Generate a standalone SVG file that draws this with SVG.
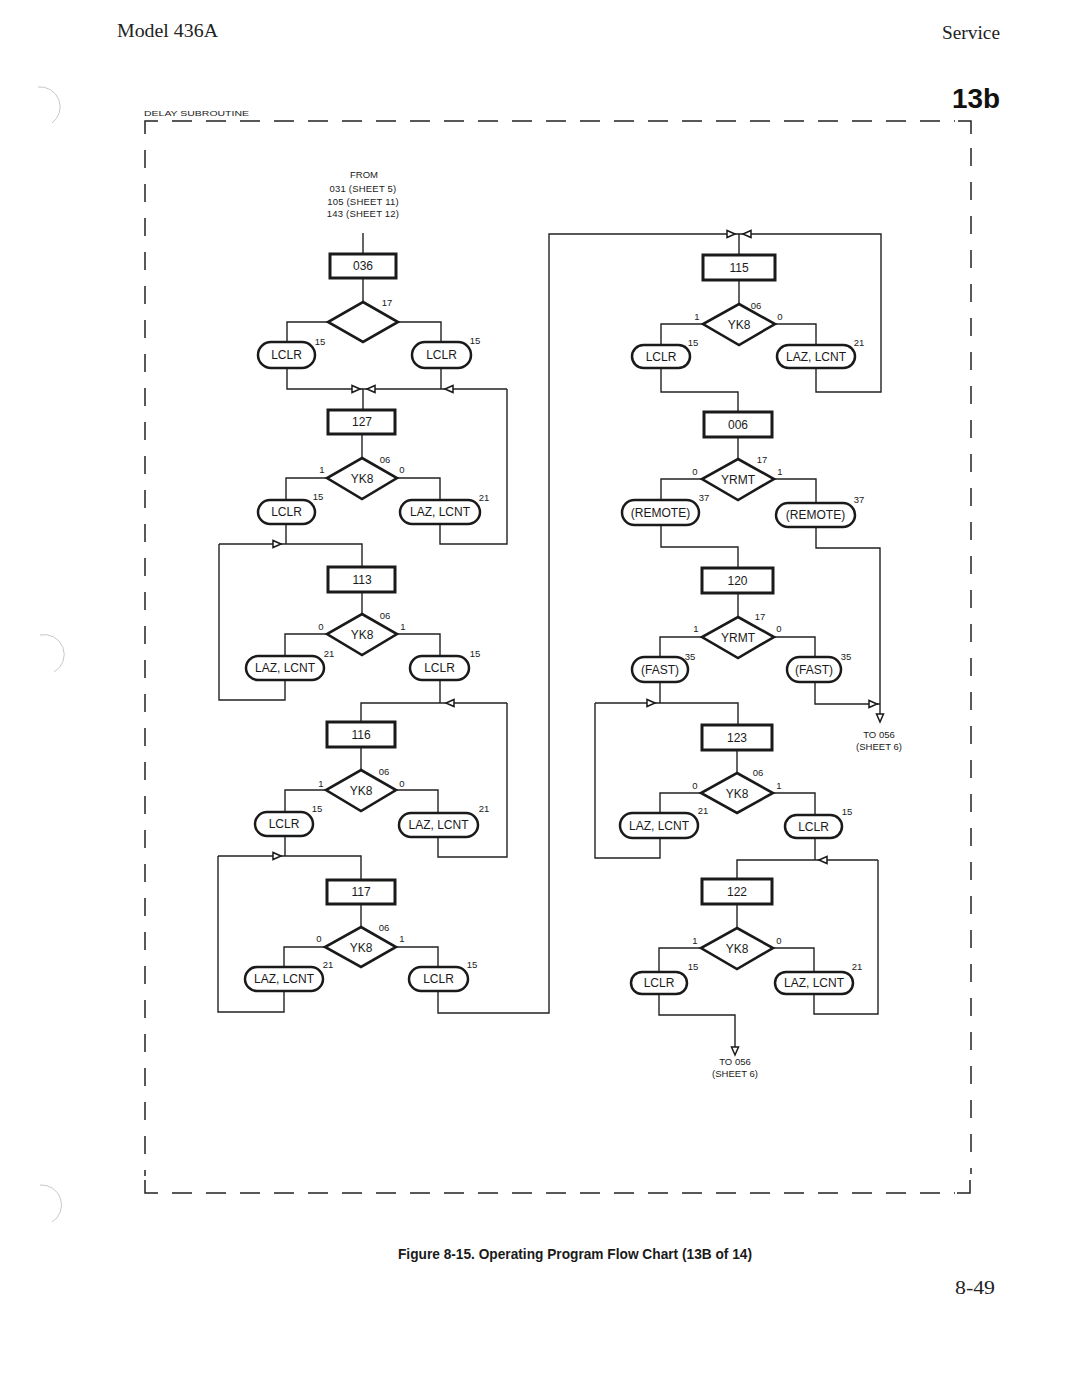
<svg xmlns="http://www.w3.org/2000/svg" width="1080" height="1399" viewBox="0 0 1080 1399">
<style>
.ln{fill:none;stroke:#222;stroke-width:1.4}
.bd{fill:none;stroke:#222;stroke-width:1.5}
.box{fill:#fff;stroke:#1a1a1a;stroke-width:3}
.dia{fill:#fff;stroke:#1a1a1a;stroke-width:2.6;stroke-linejoin:miter}
.ov{fill:#fff;stroke:#1a1a1a;stroke-width:2.5}
.t{font-family:"Liberation Sans",Arial,sans-serif;font-size:12px;fill:#1a1a1a;text-anchor:middle;dominant-baseline:central}
.s{font-family:"Liberation Sans",Arial,sans-serif;font-size:9.5px;fill:#1a1a1a;text-anchor:middle}
.hole{fill:none;stroke:#c8c8c8;stroke-width:1}
</style>
<defs>
<path id="ah" d="M0,0 L-8,-3.5 L-8,3.5 Z" fill="#fff" stroke="#1a1a1a" stroke-width="1.5" stroke-linejoin="miter"/>
</defs>
<rect width="1080" height="1399" fill="#fff"/>

<!-- page artefacts -->
<path class="hole" d="M38,87 A20,20 0 0 1 52,123"/>
<path class="hole" d="M40,635 A20,20 0 0 1 54,672"/>
<path class="hole" d="M40,1185 A20,20 0 0 1 52,1222"/>

<!-- header -->
<text x="117" y="37" font-family="Liberation Serif,serif" font-size="19" fill="#222" textLength="101" lengthAdjust="spacingAndGlyphs">Model 436A</text>
<text x="942" y="39" font-family="Liberation Serif,serif" font-size="18" fill="#222" textLength="58" lengthAdjust="spacingAndGlyphs">Service</text>
<text x="952" y="108" font-family="Liberation Sans,Arial,sans-serif" font-size="28" font-weight="bold" fill="#111" textLength="48" lengthAdjust="spacingAndGlyphs">13b</text>
<text x="144" y="116" font-family="Liberation Sans,Arial,sans-serif" font-size="7.5" fill="#222" textLength="105" lengthAdjust="spacingAndGlyphs">DELAY SUBROUTINE</text>

<!-- dashed border -->
<g id="border">
<path class="bd" d="M145,134 V121 H158"/>
<path class="bd" d="M172,121 H955" stroke-dasharray="20 14"/>
<path class="bd" d="M958,121 H971 V134"/>
<path class="bd" d="M145,150 V1176" stroke-dasharray="18 16"/>
<path class="bd" d="M145,1180 V1193 H158"/>
<path class="bd" d="M172,1193 H955" stroke-dasharray="20 14"/>
<path class="bd" d="M957,1193 H970 V1180"/>
<path class="bd" d="M971,148 V1174" stroke-dasharray="18 16"/>
</g>

<!-- from text -->
<g id="from">
<text class="s" x="364" y="178">FROM</text>
<text class="s" x="363" y="192" letter-spacing="0.2">031 (SHEET 5)</text>
<text class="s" x="363" y="205" letter-spacing="0.2">105 (SHEET 11)</text>
<text class="s" x="363" y="217" letter-spacing="0.2">143 (SHEET 12)</text>
</g>

<!-- connectors -->
<g id="connectors">
<path class="ln" d="M363,233 V254"/>
<path class="ln" d="M363,278 V302"/>
<path class="ln" d="M328,322 H287 V342"/>
<path class="ln" d="M398,322 H441 V342"/>
<path class="ln" d="M287,368 V389 H363"/>
<path class="ln" d="M441,368 V389"/>
<path class="ln" d="M507,389 H363 V410"/>
<path class="ln" d="M362,434 V458"/>
<path class="ln" d="M327,478 H286 V500"/>
<path class="ln" d="M397,478 H440 V500"/>
<path class="ln" d="M440,524 V544 H507 V389"/>
<path class="ln" d="M286,524 V544"/>
<path class="ln" d="M219,544 H362 V567"/>
<path class="ln" d="M362,592 V614"/>
<path class="ln" d="M327,634 H285 V656"/>
<path class="ln" d="M397,634 H440 V656"/>
<path class="ln" d="M285,680 V700 H219 V544"/>
<path class="ln" d="M440,680 V703"/>
<path class="ln" d="M507,703 H361 V722"/>
<path class="ln" d="M361,747 V770"/>
<path class="ln" d="M326,790 H285 V812"/>
<path class="ln" d="M396,790 H438 V813"/>
<path class="ln" d="M438,837 V857 H507 V703"/>
<path class="ln" d="M285,836 V856"/>
<path class="ln" d="M218,856 H361 V880"/>
<path class="ln" d="M361,904 V927"/>
<path class="ln" d="M325,947 H284 V967"/>
<path class="ln" d="M396,947 H438 V967"/>
<path class="ln" d="M284,991 V1012 H218 V856"/>
<path class="ln" d="M438,991 V1013 H549 V234 H739"/>
<path class="ln" d="M816,368 V392 H881 V234 H739 V255"/>
<path class="ln" d="M739,280 V304"/>
<path class="ln" d="M703,324 H661 V345"/>
<path class="ln" d="M775,324 H816 V345"/>
<path class="ln" d="M661,368 V392 H738 V412"/>
<path class="ln" d="M738,437 V459"/>
<path class="ln" d="M702,479 H661 V500"/>
<path class="ln" d="M774,479 H816 V503"/>
<path class="ln" d="M661,525 V547 H738 V568"/>
<path class="ln" d="M816,527 V548 H880 V720"/>
<path class="ln" d="M738,593 V617"/>
<path class="ln" d="M702,637 H660 V657"/>
<path class="ln" d="M774,637 H815 V657"/>
<path class="ln" d="M815,682 V704 H880"/>
<path class="ln" d="M660,682 V703"/>
<path class="ln" d="M595,703 H738 V725"/>
<path class="ln" d="M737,750 V773"/>
<path class="ln" d="M701,793 H660 V813"/>
<path class="ln" d="M773,793 H815 V815"/>
<path class="ln" d="M660,838 V858 H595 V703"/>
<path class="ln" d="M815,838 V860"/>
<path class="ln" d="M878,860 H737 V879"/>
<path class="ln" d="M814,994 V1014 H878 V860"/>
<path class="ln" d="M737,904 V928"/>
<path class="ln" d="M701,948 H659 V972"/>
<path class="ln" d="M773,948 H814 V972"/>
<path class="ln" d="M659,994 V1015 H735 V1054"/>
<use href="#ah" transform="translate(360,389)"/>
<use href="#ah" transform="translate(367,389) rotate(180)"/>
<use href="#ah" transform="translate(445,389) rotate(180)"/>
<use href="#ah" transform="translate(281,544)"/>
<use href="#ah" transform="translate(446,703) rotate(180)"/>
<use href="#ah" transform="translate(281,856)"/>
<use href="#ah" transform="translate(735,234)"/>
<use href="#ah" transform="translate(743,234) rotate(180)"/>
<use href="#ah" transform="translate(880,722) rotate(90)"/>
<use href="#ah" transform="translate(877,704)"/>
<use href="#ah" transform="translate(655,703)"/>
<use href="#ah" transform="translate(819,860) rotate(180)"/>
<use href="#ah" transform="translate(735,1055) rotate(90)"/>
<text class="s" x="879" y="738">TO 056</text>
<text class="s" x="879" y="750">(SHEET 6)</text>
<text class="s" x="735" y="1065">TO 056</text>
<text class="s" x="735" y="1077">(SHEET 6)</text>
</g>

<!-- left column -->
<g id="n036"><rect class="box" x="330" y="254" width="66" height="24"/><text class="t" x="363" y="266">036</text></g>
<g id="d036"><polygon class="dia" points="363,302 398,322 363,342 328,322"/><text class="s" x="387" y="306">17</text></g>
<g id="o036L"><rect class="ov" x="258" y="342" width="57" height="26" rx="13"/><text class="t" x="286.5" y="355">LCLR</text><text class="s" x="320" y="345">15</text></g>
<g id="o036R"><rect class="ov" x="412" y="342" width="59" height="26" rx="13"/><text class="t" x="441.5" y="355">LCLR</text><text class="s" x="475" y="344">15</text></g>

<g id="n127"><rect class="box" x="328" y="410" width="67" height="24"/><text class="t" x="362" y="422">127</text></g>
<g id="d127"><polygon class="dia" points="362,458 397,478 362,499 327,478"/><text class="t" x="362" y="479">YK8</text><text class="s" x="385" y="463">06</text><text class="s" x="322" y="473">1</text><text class="s" x="402" y="473">0</text></g>
<g id="o127L"><rect class="ov" x="258" y="500" width="57" height="24" rx="12"/><text class="t" x="286.5" y="512">LCLR</text><text class="s" x="318" y="500">15</text></g>
<g id="o127R"><rect class="ov" x="400" y="500" width="80" height="24" rx="12"/><text class="t" x="440" y="512">LAZ, LCNT</text><text class="s" x="484" y="501">21</text></g>

<g id="n113"><rect class="box" x="328" y="567" width="67" height="25"/><text class="t" x="362" y="579.5">113</text></g>
<g id="d113"><polygon class="dia" points="362,614 397,634 362,655 327,634"/><text class="t" x="362" y="635">YK8</text><text class="s" x="385" y="619">06</text><text class="s" x="321" y="630">0</text><text class="s" x="403" y="630">1</text></g>
<g id="o113L"><rect class="ov" x="246" y="656" width="78" height="24" rx="12"/><text class="t" x="285" y="668">LAZ, LCNT</text><text class="s" x="329" y="657">21</text></g>
<g id="o113R"><rect class="ov" x="410" y="656" width="59" height="24" rx="12"/><text class="t" x="439.5" y="668">LCLR</text><text class="s" x="475" y="657">15</text></g>

<g id="n116"><rect class="box" x="327" y="722" width="68" height="25"/><text class="t" x="361" y="734.5">116</text></g>
<g id="d116"><polygon class="dia" points="361,770 396,790 361,811 326,790"/><text class="t" x="361" y="791">YK8</text><text class="s" x="384" y="775">06</text><text class="s" x="321" y="787">1</text><text class="s" x="402" y="787">0</text></g>
<g id="o116L"><rect class="ov" x="255" y="812" width="58" height="24" rx="12"/><text class="t" x="284" y="824">LCLR</text><text class="s" x="317" y="812">15</text></g>
<g id="o116R"><rect class="ov" x="399" y="813" width="79" height="24" rx="12"/><text class="t" x="438.5" y="825">LAZ, LCNT</text><text class="s" x="484" y="812">21</text></g>

<g id="n117"><rect class="box" x="327" y="880" width="68" height="24"/><text class="t" x="361" y="892">117</text></g>
<g id="d117"><polygon class="dia" points="361,927 396,947 361,967 325,947"/><text class="t" x="361" y="948">YK8</text><text class="s" x="384" y="931">06</text><text class="s" x="319" y="942">0</text><text class="s" x="402" y="942">1</text></g>
<g id="o117L"><rect class="ov" x="245" y="967" width="78" height="24" rx="12"/><text class="t" x="284" y="979">LAZ, LCNT</text><text class="s" x="328" y="968">21</text></g>
<g id="o117R"><rect class="ov" x="409" y="967" width="59" height="24" rx="12"/><text class="t" x="438.5" y="979">LCLR</text><text class="s" x="472" y="968">15</text></g>

<!-- right column -->
<g id="n115"><rect class="box" x="703" y="255" width="72" height="25"/><text class="t" x="739" y="267.5">115</text></g>
<g id="d115"><polygon class="dia" points="739,304 775,324 739,345 703,324"/><text class="t" x="739" y="325">YK8</text><text class="s" x="756" y="309">06</text><text class="s" x="697" y="320">1</text><text class="s" x="780" y="320">0</text></g>
<g id="o115L"><rect class="ov" x="632" y="345" width="58" height="23" rx="11.5"/><text class="t" x="661" y="356.5">LCLR</text><text class="s" x="693" y="346">15</text></g>
<g id="o115R"><rect class="ov" x="777" y="345" width="78" height="23" rx="11.5"/><text class="t" x="816" y="356.5">LAZ, LCNT</text><text class="s" x="859" y="346">21</text></g>

<g id="n006"><rect class="box" x="704" y="412" width="68" height="25"/><text class="t" x="738" y="424.5">006</text></g>
<g id="d006"><polygon class="dia" points="738,459 774,479 738,500 702,479"/><text class="t" x="738" y="480">YRMT</text><text class="s" x="762" y="463">17</text><text class="s" x="695" y="475">0</text><text class="s" x="780" y="475">1</text></g>
<g id="o006L"><rect class="ov" x="622" y="500" width="77" height="25" rx="12.5"/><text class="t" x="660.5" y="512.5">(REMOTE)</text><text class="s" x="704" y="501">37</text></g>
<g id="o006R"><rect class="ov" x="776" y="503" width="79" height="24" rx="12"/><text class="t" x="815.5" y="515">(REMOTE)</text><text class="s" x="859" y="503">37</text></g>

<g id="n120"><rect class="box" x="702" y="568" width="71" height="25"/><text class="t" x="737.5" y="580.5">120</text></g>
<g id="d120"><polygon class="dia" points="738,617 774,637 738,658 702,637"/><text class="t" x="738" y="638">YRMT</text><text class="s" x="760" y="620">17</text><text class="s" x="696" y="632">1</text><text class="s" x="779" y="632">0</text></g>
<g id="o120L"><rect class="ov" x="632" y="657" width="56" height="25" rx="12.5"/><text class="t" x="660" y="669.5">(FAST)</text><text class="s" x="690" y="660">35</text></g>
<g id="o120R"><rect class="ov" x="787" y="657" width="54" height="25" rx="12.5"/><text class="t" x="814" y="669.5">(FAST)</text><text class="s" x="846" y="660">35</text></g>

<g id="n123"><rect class="box" x="702" y="725" width="70" height="25"/><text class="t" x="737" y="737.5">123</text></g>
<g id="d123"><polygon class="dia" points="737,773 773,793 737,813 701,793"/><text class="t" x="737" y="794">YK8</text><text class="s" x="758" y="776">06</text><text class="s" x="695" y="789">0</text><text class="s" x="779" y="789">1</text></g>
<g id="o123L"><rect class="ov" x="620" y="813" width="78" height="25" rx="12.5"/><text class="t" x="659" y="825.5">LAZ, LCNT</text><text class="s" x="703" y="814">21</text></g>
<g id="o123R"><rect class="ov" x="785" y="815" width="57" height="23" rx="11.5"/><text class="t" x="813.5" y="826.5">LCLR</text><text class="s" x="847" y="815">15</text></g>

<g id="n122"><rect class="box" x="702" y="879" width="70" height="25"/><text class="t" x="737" y="891.5">122</text></g>
<g id="d122"><polygon class="dia" points="737,928 773,948 737,969 701,948"/><text class="t" x="737" y="949">YK8</text><text class="s" x="695" y="944">1</text><text class="s" x="779" y="944">0</text></g>
<g id="o122L"><rect class="ov" x="631" y="972" width="56" height="22" rx="11"/><text class="t" x="659" y="983">LCLR</text><text class="s" x="693" y="970">15</text></g>
<g id="o122R"><rect class="ov" x="775" y="972" width="78" height="22" rx="11"/><text class="t" x="814" y="983">LAZ, LCNT</text><text class="s" x="857" y="970">21</text></g>

<!-- footer -->
<text x="398" y="1259" font-family="Liberation Sans,Arial,sans-serif" font-size="15" font-weight="bold" fill="#1a1a1a" textLength="354" lengthAdjust="spacingAndGlyphs">Figure 8-15. Operating Program Flow Chart (13B of 14)</text>
<text x="955" y="1294" font-family="Liberation Serif,serif" font-size="18" fill="#222" textLength="40" lengthAdjust="spacingAndGlyphs">8-49</text>
</svg>
